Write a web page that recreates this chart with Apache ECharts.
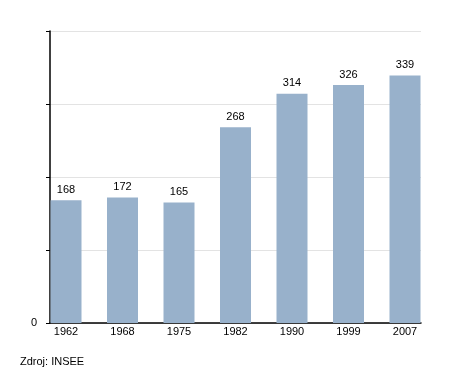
<!DOCTYPE html>
<html><head><meta charset="utf-8">
<script src="https://cdn.jsdelivr.net/npm/echarts@6/dist/echarts.min.js"></script>
<style>html,body{margin:0;padding:0;background:#fff}#c{width:450px;height:373px}</style>
</head><body><div id="c"></div>
<script>
const categories = ['1962','1968','1975','1982','1990','1999','2007'];
const population = [168,172,165,268,314,326,339];
const yMax = 400, yInterval = 100;
const sourceText = 'Zdroj: INSEE';

const chart = echarts.init(document.getElementById('c'));
const font = 'Liberation Sans, Arial, sans-serif';
chart.setOption({
  animation: false,
  grid: [
    {left: 50, right: 29, top: 31, bottom: 50},
    {left: 37.75, right: 16.75, top: 31, bottom: 50}
  ],
  xAxis: [
    {gridIndex: 0, type: 'category', data: categories, axisLine: {lineStyle: {color: '#000', width: 1.5}},
     axisTick: {show: false}, axisLabel: {show: false}},
    {gridIndex: 1, type: 'category', data: categories, axisLine: {show: false}, axisTick: {show: false},
     axisLabel: {color: '#000', fontFamily: font, fontSize: 11, margin: 3}}
  ],
  yAxis: [
    {gridIndex: 0, type: 'value', min: 0, max: yMax, interval: yInterval,
     axisLine: {show: true, lineStyle: {color: '#000', width: 1.5}},
     axisTick: {show: true, length: 4, lineStyle: {color: '#000'}},
     splitLine: {lineStyle: {color: '#e3e3e3', width: 1}},
     axisLabel: {color: '#000', fontFamily: font, fontSize: 11, margin: 13,
       formatter: v => v === 0 ? '0' : ''}},
    {gridIndex: 1, type: 'value', min: 0, max: yMax, interval: yInterval, show: false}
  ],
  series: [{
    type: 'bar', xAxisIndex: 1, yAxisIndex: 1, data: population, barWidth: 31,
    itemStyle: {color: '#98b1cb'},
    label: {show: true, position: 'top', distance: 5, color: '#000', fontFamily: font, fontSize: 11}
  }],
  graphic: [{type: 'text', left: 20, top: 356, style: {text: sourceText, fill: '#000', font: '11px ' + font}}]
});
</script></body></html>
